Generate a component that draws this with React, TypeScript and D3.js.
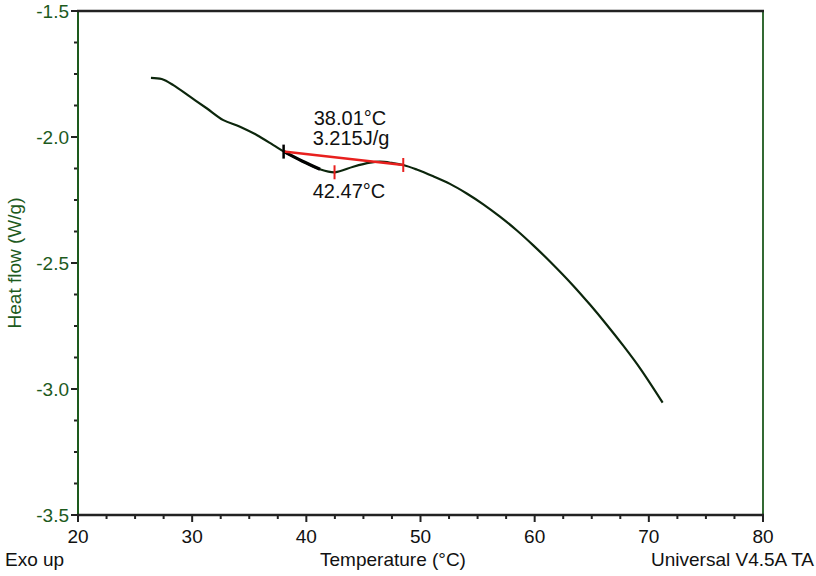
import React from "react";
import * as d3 from "d3";

const temperature = [26.39, 27.33, 28.35, 29.81, 31.27, 32.73, 34.19, 35.65, 37.11, 38.04, 39.62, 41.2, 42.51, 44.11, 45.58, 46.45, 47.5, 48.49, 49.67, 51.12, 52.58, 54.05, 55.5, 56.96, 58.42, 59.88, 61.34, 63.38, 64.84, 66.31, 67.76, 69.22, 71.21];
const heatFlow = [-1.765, -1.77, -1.794, -1.84, -1.886, -1.933, -1.959, -1.992, -2.032, -2.058, -2.095, -2.128, -2.14, -2.118, -2.102, -2.098, -2.103, -2.111, -2.129, -2.156, -2.186, -2.224, -2.267, -2.316, -2.37, -2.43, -2.494, -2.59, -2.665, -2.745, -2.828, -2.917, -3.054];

const xTicks = [20, 30, 40, 50, 60, 70, 80];
const yTicks = [-1.5, -2.0, -2.5, -3.0, -3.5];

const onsetT = 38.01;
const onsetH = -2.058;
const peakT = 42.47;
const peakH = -2.14;
const endT = 48.49;
const endH = -2.111;
const onsetLabel = "38.01°C";
const enthalpyLabel = "3.215J/g";
const peakLabel = "42.47°C";

const W = 816;
const H = 576;
const left = 78, right = 763, top = 11, bottom = 515;

export default function App() {
  const x = d3.scaleLinear().domain([20, 80]).range([left, right]);
  const y = d3.scaleLinear().domain([-1.5, -3.5]).range([top, bottom]);
  const pts = temperature.map((t, i) => [t, heatFlow[i]] as [number, number]);
  const line = d3.line<[number, number]>().x(d => x(d[0])).y(d => y(d[1])).curve(d3.curveCatmullRom.alpha(0.5));
  const thick = pts.filter(p => p[0] >= 38.0 && p[0] <= 41.3);

  const xMinor = d3.range(20, 80.01, 2.5);
  const yMinor = d3.range(-1.5, -3.501, -0.125);
  const green = "#1d5a1d";
  const font = "'Liberation Sans', Arial, sans-serif";

  return (
    <svg width={W} height={H} style={{ position: "absolute", left: 0, top: 0, background: "#fff" }} fontFamily={font}>
      {xMinor.map((v, i) => (
        <line key={"xm" + i} x1={x(v)} x2={x(v)} y1={bottom} y2={bottom + (Math.abs(v % 10) < 1e-6 ? 7 : 4)} stroke="#222" strokeWidth={2} />
      ))}
      {yMinor.map((v, i) => {
        const major = Math.abs((v * 2) - Math.round(v * 2)) < 1e-6;
        return <line key={"ym" + i} x1={left} x2={left - (major ? 7 : 4)} y1={y(v)} y2={y(v)} stroke="#222" strokeWidth={2} />;
      })}
      <line x1={right} x2={right} y1={top} y2={bottom} stroke={green} strokeWidth={1.8} />
      <line x1={left} x2={left} y1={top} y2={bottom} stroke={green} strokeWidth={2} />
      <line x1={left - 1} x2={right + 1} y1={top} y2={top} stroke="#222" strokeWidth={2.5} />
      <line x1={left - 1} x2={right + 1} y1={bottom} y2={bottom} stroke="#222" strokeWidth={2.5} />

      {xTicks.map(v => (
        <text key={"xt" + v} x={x(v)} y={543} textAnchor="middle" fontSize={19} fill="#111">{v}</text>
      ))}
      {yTicks.map(v => (
        <text key={"yt" + v} x={left - 9} y={y(v) + 7} textAnchor="end" fontSize={19} fill={green}>{v.toFixed(1)}</text>
      ))}
      <text x={5} y={566} fontSize={19} fill="#111">Exo up</text>
      <text x={393} y={566} textAnchor="middle" fontSize={19} fill="#111">Temperature (°C)</text>
      <text x={814} y={566} textAnchor="end" fontSize={19} fill="#111">Universal V4.5A TA</text>
      <text transform={`translate(21,${(top + bottom) / 2}) rotate(-90)`} textAnchor="middle" fontSize={19} fill={green}>Heat flow (W/g)</text>

      <path d={line(pts) || ""} fill="none" stroke="#0c260c" strokeWidth={2.2} />
      <path d={line(thick) || ""} fill="none" stroke="#000" strokeWidth={3.2} />

      <line x1={x(onsetT)} y1={y(onsetH)} x2={x(endT)} y2={y(endH)} stroke="#e8201e" strokeWidth={2.5} />
      <line x1={x(endT)} x2={x(endT)} y1={y(endH) - 7} y2={y(endH) + 7} stroke="#e8201e" strokeWidth={2} />
      <line x1={x(peakT)} x2={x(peakT)} y1={y(peakH) - 7} y2={y(peakH) + 7} stroke="#e8201e" strokeWidth={2} />
      <line x1={x(onsetT)} x2={x(onsetT)} y1={y(onsetH) - 7} y2={y(onsetH) + 7} stroke="#000" strokeWidth={2.5} />

      <text x={350} y={125} textAnchor="middle" fontSize={20} fill="#111">{onsetLabel}</text>
      <text x={351} y={145} textAnchor="middle" fontSize={20} fill="#111">{enthalpyLabel}</text>
      <text x={349} y={198} textAnchor="middle" fontSize={20} fill="#111">{peakLabel}</text>
    </svg>
  );
}
